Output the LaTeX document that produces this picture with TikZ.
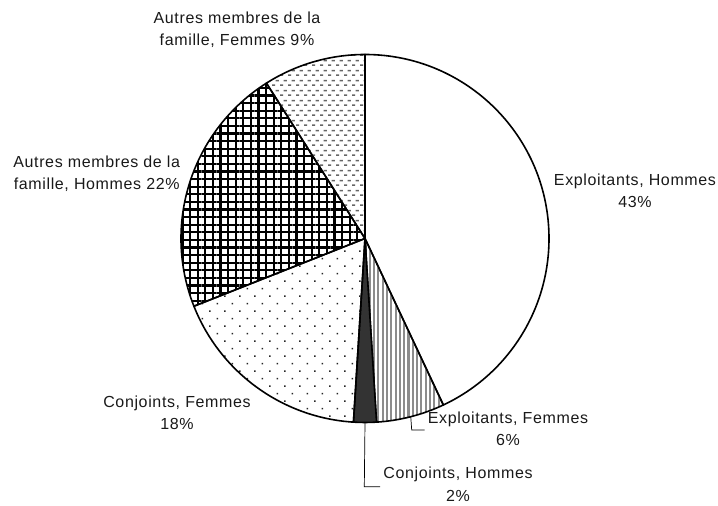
\documentclass[tikz,border=0pt]{standalone}
\usepackage{fontspec}
\setmainfont[LetterSpace=4]{Liberation Sans}
\usetikzlibrary{patterns,patterns.meta}

% small grey dashes, staggered rows
\pgfdeclarepatternformonly{greydash}{\pgfpointorigin}{\pgfpoint{8pt}{10pt}}{\pgfpoint{8pt}{10pt}}{
  \pgfpathrectangle{\pgfpoint{0pt}{0pt}}{\pgfpoint{3.6pt}{1.8pt}}
  \pgfpathrectangle{\pgfpoint{4pt}{5pt}}{\pgfpoint{3.6pt}{1.8pt}}
  \pgfusepath{fill}
}

\tikzset{
  slice/.style={draw=black, line width=1.6pt, line join=round},
  sl-eh/.style={fill=white},
  sl-ef/.style={pattern={Lines[angle=90,distance=4.3pt,line width=2.1pt]}, pattern color=black!45},
  sl-ch/.style={fill=black!80},
  sl-cf/.style={pattern={Dots[angle=45,distance=10.6pt,radius=1.05pt]}, pattern color=black!85},
  sl-ah/.style={pattern={Hatch[distance=7.6pt,line width=2.2pt]}, pattern color=black},
  sl-af/.style={pattern=greydash, pattern color=black!60},
  lbl/.style={align=center, font=\fontsize{16}{22.5}\selectfont, inner sep=3pt, text=black!90},
  leader/.style={draw=black, line width=0.7pt}
}

\begin{document}
\begin{tikzpicture}[x=1pt,y=1pt]
\useasboundingbox (0,0) rectangle (718,506);
\def\pieR{184}
\coordinate (O) at (365,267.5);

\foreach \from/\to/\kind in {90/-64.8/eh, -64.8/-86.4/ef, -86.4/-93.6/ch, -93.6/-158.4/cf, -158.4/-237.6/ah, -237.6/-270/af}
{
    \draw[slice,sl-\kind] (O) -- ++(\from:\pieR) arc[start angle=\from, end angle=\to, radius=\pieR] -- cycle;
}

\node[lbl] (af) at (237,476.5) {Autres membres de la\\famille, Femmes 9\%};
\node[lbl] (ah) at (96.7,332.5) {Autres membres de la\\famille, Hommes 22\%};
\node[lbl] (eh) at (635,315.3) {Exploitants, Hommes\\43\%};
\node[lbl] (cf) at (177,93) {Conjoints, Femmes\\18\%};
\node[lbl] (ef) at (508,77.3) {Exploitants, Femmes\\6\%};
\node[lbl] (ch) at (458,21.7) {Conjoints, Hommes\\2\%};

% leaders for the two thin slices
\path (O) ++(-75.6:\pieR) coordinate (ef-edge);
\path (O) ++(-90:\pieR) coordinate (ch-edge);
\coordinate (ef-knee) at (411.7,76);
\coordinate (ch-knee) at (364.3,19.3);
\draw[leader] (ef-edge) -- (ef-knee) -- (ef-knee -| ef.west);
\draw[leader] (ch-edge) -- (ch-knee) -- (ch-knee -| ch.west);
\end{tikzpicture}
\end{document}
